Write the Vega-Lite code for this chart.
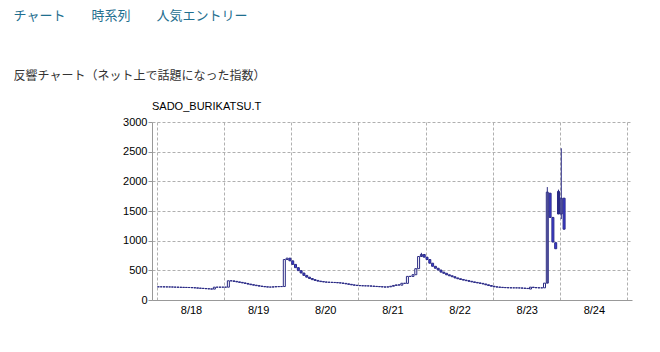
{
  "$schema": "https://vega.github.io/schema/vega-lite/v6.json",
  "background": "white",
  "padding": {"left": 13, "top": 10, "right": 5, "bottom": 5},
  "title": {
    "text": "チャート　　時系列　　人気エントリー",
    "subtitle": " 反響チャート（ネット上で話題になった指数）",
    "anchor": "start",
    "frame": "bounds",
    "dx": -109,
    "baseline": "top",
    "font": "Noto Sans CJK JP",
    "fontSize": 13,
    "fontWeight": "normal",
    "color": "#1f6f8f",
    "subtitleFont": "Noto Sans CJK JP",
    "subtitleFontSize": 12,
    "subtitleColor": "#333333",
    "subtitlePadding": 48,
    "offset": 19
  },
  "config": {
    "view": {"stroke": null},
    "axis": {
      "labelFont": "Liberation Sans",
      "labelFontSize": 11,
      "labelColor": "#000000",
      "labelOverlap": false,
      "domainColor": "#999999",
      "tickColor": "#999999",
      "gridColor": "#b0b0b0",
      "gridDash": [3, 2],
      "gridOpacity": 1,
      "title": null
    }
  },
  "datasets": {
    "candles": [
      {"t":0,"o":222,"c":222},{"t":1,"o":222,"c":222},{"t":2,"o":222,"c":221},{"t":3,"o":221,"c":220},
      {"t":4,"o":220,"c":220},{"t":5,"o":220,"c":218},{"t":6,"o":218,"c":216},{"t":7,"o":216,"c":215},
      {"t":8,"o":215,"c":213},{"t":9,"o":213,"c":212},{"t":10,"o":212,"c":211},{"t":11,"o":211,"c":210},
      {"t":12,"o":210,"c":207},{"t":13,"o":207,"c":204},{"t":14,"o":204,"c":200},{"t":15,"o":200,"c":197},
      {"t":16,"o":197,"c":194},{"t":17,"o":194,"c":190},{"t":18,"o":190,"c":187},{"t":19,"o":187,"c":184},
      {"t":20,"o":184,"c":216},{"t":21,"o":216,"c":216},{"t":22,"o":216,"c":216},{"t":23,"o":216,"c":216},
      {"t":24,"o":216,"c":216},{"t":25,"o":216,"c":324},{"t":26,"o":324,"c":322},{"t":27,"o":322,"c":314},
      {"t":28,"o":314,"c":305},{"t":29,"o":305,"c":297},{"t":30,"o":297,"c":288},{"t":31,"o":288,"c":279},
      {"t":32,"o":279,"c":268},{"t":33,"o":268,"c":258},{"t":34,"o":258,"c":250},{"t":35,"o":250,"c":242},
      {"t":36,"o":242,"c":234},{"t":37,"o":234,"c":228},{"t":38,"o":228,"c":222},{"t":39,"o":222,"c":218},
      {"t":40,"o":218,"c":218},{"t":41,"o":218,"c":222},{"t":42,"o":222,"c":225},{"t":43,"o":225,"c":226},
      {"t":44,"o":226,"c":227},{"t":45,"o":227,"c":682},{"t":46,"o":682,"c":705},{"t":47,"o":705,"c":660},
      {"t":48,"o":660,"c":600},{"t":49,"o":600,"c":545},{"t":50,"o":545,"c":495},{"t":51,"o":495,"c":455},
      {"t":52,"o":455,"c":415},{"t":53,"o":415,"c":385},{"t":54,"o":385,"c":362},{"t":55,"o":362,"c":343},
      {"t":56,"o":343,"c":330},{"t":57,"o":330,"c":318},{"t":58,"o":318,"c":310},{"t":59,"o":310,"c":304},
      {"t":60,"o":304,"c":300},{"t":61,"o":300,"c":298},{"t":62,"o":298,"c":296},{"t":63,"o":296,"c":294},
      {"t":64,"o":294,"c":290},{"t":65,"o":290,"c":286},{"t":66,"o":286,"c":280},{"t":67,"o":280,"c":272},
      {"t":68,"o":272,"c":264},{"t":69,"o":264,"c":255},{"t":70,"o":255,"c":249},{"t":71,"o":249,"c":244},
      {"t":72,"o":244,"c":241},{"t":73,"o":241,"c":239},{"t":74,"o":239,"c":238},{"t":75,"o":238,"c":237},
      {"t":76,"o":237,"c":234},{"t":77,"o":234,"c":230},{"t":78,"o":230,"c":227},{"t":79,"o":227,"c":224},
      {"t":80,"o":224,"c":220},{"t":81,"o":220,"c":218},{"t":82,"o":218,"c":222},{"t":83,"o":222,"c":232},
      {"t":84,"o":232,"c":245},{"t":85,"o":245,"c":255},{"t":86,"o":255,"c":252},{"t":87,"o":250,"c":282},
      {"t":88,"o":282,"c":280},{"t":89,"o":280,"c":398},{"t":90,"o":398,"c":398},{"t":91,"o":398,"c":426},
      {"t":92,"o":426,"c":528},{"t":93,"o":528,"c":733},{"t":94,"o":733,"c":767},{"t":95,"o":767,"c":722},
      {"t":96,"o":722,"c":682},{"t":97,"o":682,"c":620},{"t":98,"o":620,"c":568},{"t":99,"o":568,"c":535},
      {"t":100,"o":535,"c":505},{"t":101,"o":505,"c":470},{"t":102,"o":470,"c":450},{"t":103,"o":450,"c":425},
      {"t":104,"o":425,"c":408},{"t":105,"o":408,"c":392},{"t":106,"o":392,"c":372},{"t":107,"o":372,"c":358},
      {"t":108,"o":358,"c":346},{"t":109,"o":346,"c":335},{"t":110,"o":335,"c":326},{"t":111,"o":326,"c":315},
      {"t":112,"o":315,"c":305},{"t":113,"o":305,"c":296},{"t":114,"o":296,"c":288},{"t":115,"o":288,"c":280},
      {"t":116,"o":280,"c":270},{"t":117,"o":270,"c":256},{"t":118,"o":256,"c":244},{"t":119,"o":244,"c":232},
      {"t":120,"o":232,"c":222},{"t":121,"o":222,"c":218},{"t":122,"o":218,"c":214},{"t":123,"o":214,"c":210},
      {"t":124,"o":210,"c":208},{"t":125,"o":208,"c":206},{"t":126,"o":206,"c":205},{"t":127,"o":205,"c":205},
      {"t":128,"o":205,"c":204},{"t":129,"o":204,"c":203},{"t":130,"o":203,"c":200},{"t":131,"o":200,"c":196},
      {"t":132,"o":196,"c":193},{"t":133,"o":185,"c":216},{"t":134,"o":216,"c":210},{"t":135,"o":210,"c":206},
      {"t":136,"o":206,"c":205},{"t":137,"o":205,"c":205},{"t":138,"o":205,"c":284},{"t":139,"o":284,"c":1818},
      {"t":140,"o":1800,"c":1392},{"t":141,"o":1392,"c":977},{"t":142,"o":966,"c":864},{"t":143,"o":1830,"c":1449},
      {"t":144,"o":1449,"c":1716},{"t":145,"o":1716,"c":1193}
    ],
    "wicks": [
      {"t":94,"lo":733,"hi":795},
      {"t":139,"lo":284,"hi":1903},
      {"t":143,"lo":1449,"hi":1860},
      {"t":144,"lo":1364,"hi":2557}
    ]
  },
  "vconcat": [
    {
      "title": {
        "text": "SADO_BURIKATSU.T",
        "anchor": "start",
        "frame": "group",
        "font": "Liberation Sans",
        "fontSize": 11,
        "fontWeight": "normal",
        "color": "#000000",
        "offset": 4
      },
      "width": 480,
      "height": 178,
      "encoding": {
        "x": {
          "field": "t",
          "type": "quantitative",
          "scale": {"domain": [0, 168], "nice": false, "zero": false},
          "axis": {
            "values": [0, 24, 48, 72, 96, 120, 144, 168],
            "labelExpr": "datum.value >= 168 ? '' : '8/' + (18 + datum.value / 24)",
            "labelOffset": 34,
            "tickSize": 0,
            "labelPadding": 4,
            "grid": true
          }
        }
      },
      "layer": [
        {
          "data": {"name": "candles"},
          "mark": {"type": "bar", "size": 2, "stroke": "#2a2a84", "strokeWidth": 1, "xOffset": 1.43},
          "encoding": {
            "y": {
              "field": "o",
              "type": "quantitative",
              "scale": {"domain": [0, 3000], "nice": false},
              "axis": {
                "values": [0, 500, 1000, 1500, 2000, 2500, 3000],
                "format": "d",
                "tickSize": 4,
                "labelPadding": 1,
                "grid": true
              }
            },
            "y2": {"field": "c"},
            "fill": {
              "condition": {"test": "datum.c > datum.o", "value": "#ffffff"},
              "value": "#3c3cdc"
            }
          }
        },
        {
          "data": {"name": "wicks"},
          "mark": {"type": "rule", "color": "#2a2a84", "strokeWidth": 1, "xOffset": 1.43},
          "encoding": {
            "y": {
              "field": "lo",
              "type": "quantitative",
              "scale": {"domain": [0, 3000], "nice": false},
              "axis": {
                "values": [0, 500, 1000, 1500, 2000, 2500, 3000],
                "format": "d",
                "tickSize": 4,
                "labelPadding": 1,
                "grid": true
              }
            },
            "y2": {"field": "hi"}
          }
        }
      ]
    }
  ]
}
